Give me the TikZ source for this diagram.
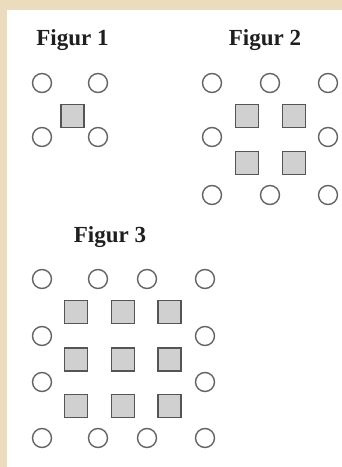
\documentclass[tikz,border=0pt]{standalone}
\usepackage{fontspec}
\setmainfont{Liberation Serif}
\definecolor{beige}{RGB}{236,220,190}
\definecolor{ringgray}{RGB}{100,100,100}
\definecolor{sqfill}{RGB}{208,208,208}
\definecolor{sqline}{RGB}{85,85,85}
\begin{document}
\begin{tikzpicture}[x=1pt,y=-1pt,
  ring/.style={circle,draw=ringgray,line width=1.4pt,minimum size=19pt,inner sep=0pt},
  tile/.style={rectangle,draw=sqline,fill=sqfill,line width=1.8pt,minimum size=23pt,inner sep=0pt},
  title/.style={font=\fontsize{23}{26}\selectfont\bfseries,text=black!88,inner sep=0pt}]
\useasboundingbox (0,0) rectangle (342,467);
\fill[beige] (0,0) rectangle (342,467);
\fill[white] (7,10) rectangle (342,467);
% Figur 1
\node[title] (t1) at (72.5,40) {Figur 1};
\node[ring] (a1) at (42,83) {};
\node[ring] (a2) at (98,83) {};
\node[ring] (a3) at (42,137) {};
\node[ring] (a4) at (98,137) {};
\node[tile] (s1) at (72.5,116) {};
% Figur 2
\node[title] (t2) at (265,40) {Figur 2};
\foreach \x/\i in {212/1,270/2,328/3}{
  \node[ring] (b\i) at (\x,83) {};
  \node[ring] (c\i) at (\x,195) {};
}
\node[ring] (b4) at (212,137) {};
\node[ring] (b5) at (328,137) {};
\foreach \x/\i in {247/1,294/2}{
  \node[tile] (u\i) at (\x,116) {};
  \node[tile] (v\i) at (\x,163) {};
}
% Figur 3
\node[title] (t3) at (110,237) {Figur 3};
\foreach \x/\i in {42/1,98/2,147/3,205/4}{
  \node[ring] (d\i) at (\x,279) {};
  \node[ring] (e\i) at (\x,438) {};
}
\node[ring] (f1) at (42,336) {};
\node[ring] (f2) at (205,336) {};
\node[ring] (f3) at (42,382) {};
\node[ring] (f4) at (205,382) {};
\foreach \x/\i in {76/1,123/2,169.5/3}{
  \foreach \y/\j in {312/1,359.5/2,406/3}{
    \node[tile] (w\i\j) at (\x,\y) {};
  }
}
\end{tikzpicture}
\end{document}
